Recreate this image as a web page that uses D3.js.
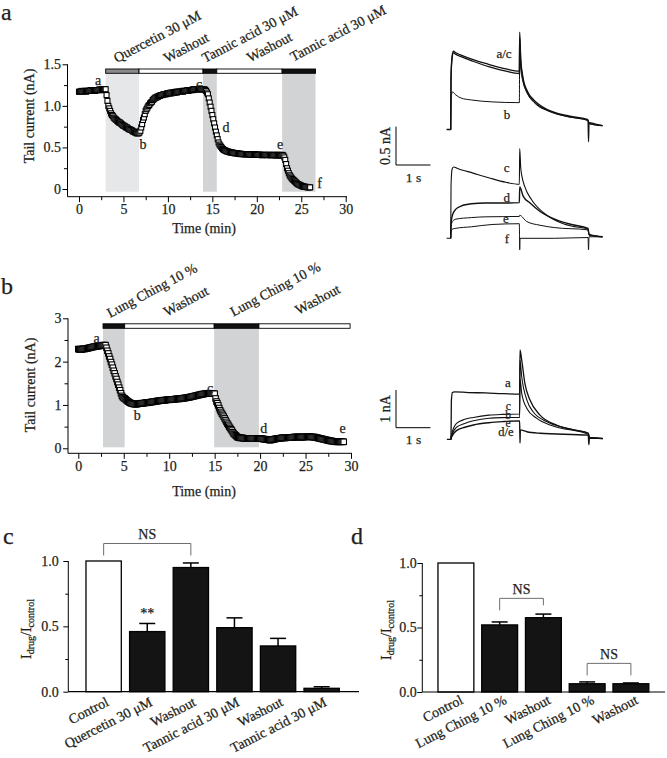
<!DOCTYPE html>
<html><head><meta charset="utf-8">
<script src="https://cdn.jsdelivr.net/npm/d3@7"></script>
<style>
body{margin:0;background:#fff}
svg{display:block}
</style>
</head><body>
<svg id="fig" width="667" height="758"></svg>
<script>
// ======================= DATA =======================
// Panel a: time course of tail current (nA), one sample every 0.1 min
const tcA_dt = 0.1;
const tcA_values = [
 1.17,1.17,1.17,1.18,1.17,1.17,1.18,1.18,1.17,1.18,
 1.18,1.18,1.18,1.19,1.18,1.18,1.19,1.19,1.18,1.19,
 1.19,1.19,1.19,1.20,1.19,1.19,1.20,1.20,1.19,1.20,
 1.20,1.13,1.06,1.00,0.97,0.94,0.91,0.89,0.88,0.86,
 0.85,0.84,0.83,0.82,0.81,0.80,0.80,0.79,0.78,0.77,
 0.76,0.76,0.75,0.74,0.74,0.73,0.72,0.72,0.71,0.71,
 0.70,0.69,0.69,0.68,0.68,0.67,0.67,0.67,0.68,0.70,
 0.74,0.78,0.83,0.86,0.90,0.94,0.96,0.98,1.00,1.01,
 1.03,1.04,1.05,1.07,1.08,1.09,1.10,1.10,1.11,1.11,
 1.12,1.12,1.13,1.13,1.13,1.14,1.14,1.14,1.14,1.15,
 1.15,1.15,1.15,1.16,1.15,1.16,1.16,1.16,1.16,1.17,
 1.16,1.17,1.17,1.17,1.17,1.17,1.18,1.17,1.18,1.18,
 1.18,1.18,1.19,1.18,1.19,1.19,1.19,1.19,1.20,1.19,
 1.20,1.20,1.20,1.20,1.20,1.20,1.21,1.20,1.20,1.20,
 1.20,1.20,1.19,1.18,1.16,1.14,1.09,1.04,0.99,0.94,
 0.89,0.84,0.79,0.74,0.69,0.645,0.60,0.56,0.535,0.52,
 0.505,0.49,0.48,0.47,0.465,0.46,0.455,0.45,0.45,0.445,
 0.44,0.44,0.44,0.435,0.435,0.43,0.43,0.43,0.43,0.425,
 0.425,0.42,0.425,0.42,0.42,0.42,0.42,0.415,0.42,0.42,
 0.42,0.415,0.42,0.415,0.41,0.415,0.415,0.42,0.415,0.41,
 0.415,0.41,0.41,0.415,0.41,0.41,0.405,0.41,0.41,0.41,
 0.41,0.41,0.405,0.41,0.41,0.41,0.405,0.41,0.41,0.405,
 0.41,0.41,0.40,0.41,0.41,0.41,0.405,0.41,0.40,0.41,
 0.40,0.38,0.35,0.30,0.25,0.22,0.19,0.165,0.15,0.135,
 0.12,0.11,0.10,0.09,0.08,0.07,0.06,0.055,0.05,0.045,
 0.04,0.035,0.03,0.03,0.025,0.025,0.025,0.02,0.02,0.02,
 0.02
];
const periodsA_label = ["Quercetin 30 μM","Washout","Tannic acid 30 μM","Washout","Tannic acid 30 μM"];
const periodsA_kind  = ["quercetin","washout","drug","washout","drug"];
const periodsA_start = [3.0, 6.75, 13.95, 15.5, 22.85];
const periodsA_end   = [6.75, 13.95, 15.5, 22.85, 26.6];
const xTicksTC = [0,5,10,15,20,25,30];
const xMinorTC = [2.5,7.5,12.5,17.5,22.5,27.5];
const yTicksA = [0,0.5,1.0,1.5];
const yMinorA = [0.25,0.75,1.25];

// Panel b: time course, one sample every 0.1 min
const tcB_dt = 0.1;
const tcB_values = [
 2.29,2.28,2.29,2.29,2.28,2.29,2.30,2.29,2.30,2.30,
 2.31,2.31,2.32,2.32,2.33,2.33,2.34,2.34,2.35,2.35,
 2.35,2.36,2.36,2.36,2.37,2.37,2.37,2.38,2.38,2.38,
 2.38,2.32,2.25,2.19,2.12,2.06,1.99,1.93,1.86,1.79,
 1.73,1.66,1.60,1.53,1.47,1.40,1.34,1.27,1.21,1.18,
 1.16,1.15,1.13,1.11,1.09,1.08,1.06,1.05,1.04,1.03,
 1.03,1.02,1.02,1.02,1.02,1.02,1.03,1.03,1.03,1.04,
 1.04,1.04,1.04,1.05,1.05,1.05,1.05,1.06,1.06,1.06,
 1.07,1.07,1.07,1.08,1.08,1.08,1.09,1.09,1.09,1.10,
 1.10,1.10,1.10,1.11,1.11,1.11,1.11,1.12,1.12,1.12,
 1.12,1.12,1.13,1.13,1.13,1.13,1.13,1.14,1.14,1.14,
 1.14,1.14,1.15,1.15,1.15,1.15,1.16,1.16,1.16,1.17,
 1.17,1.17,1.18,1.18,1.19,1.19,1.20,1.20,1.21,1.21,
 1.22,1.22,1.23,1.23,1.24,1.24,1.25,1.25,1.25,1.26,
 1.26,1.26,1.27,1.27,1.27,1.27,1.27,1.26,1.26,1.26,
 1.26,1.15,1.08,1.04,0.99,0.93,0.88,0.84,0.80,0.77,
 0.73,0.69,0.65,0.61,0.57,0.54,0.50,0.47,0.44,0.41,
 0.37,0.34,0.32,0.30,0.28,0.26,0.25,0.25,0.24,0.24,
 0.24,0.24,0.23,0.23,0.23,0.23,0.23,0.23,0.23,0.23,
 0.23,0.23,0.23,0.23,0.23,0.23,0.23,0.23,0.23,0.23,
 0.23,0.22,0.22,0.22,0.21,0.21,0.21,0.20,0.20,0.20,
 0.19,0.19,0.19,0.20,0.20,0.21,0.21,0.22,0.22,0.23,
 0.23,0.23,0.23,0.24,0.24,0.24,0.24,0.24,0.24,0.25,
 0.25,0.25,0.25,0.25,0.25,0.25,0.25,0.26,0.26,0.26,
 0.26,0.26,0.26,0.26,0.26,0.26,0.26,0.26,0.26,0.26,
 0.26,0.27,0.27,0.27,0.27,0.27,0.26,0.26,0.26,0.26,
 0.26,0.25,0.25,0.24,0.24,0.23,0.23,0.22,0.22,0.21,
 0.21,0.20,0.20,0.19,0.19,0.18,0.18,0.17,0.17,0.17,
 0.16,0.16,0.16,0.15,0.15,0.15,0.15,0.15,0.15,0.15,
 0.15,0.15,0.15
];
const periodsB_label = ["Lung Ching 10 %","Washout","Lung Ching 10 %","Washout"];
const periodsB_kind  = ["drug","washout","drug","washout"];
const periodsB_start = [2.72, 5.1, 14.95, 19.87];
const periodsB_end   = [5.1, 14.95, 19.87, 29.9];
const yTicksB = [0,1,2,3];
const yMinorB = [0.5,1.5,2.5];

// Current traces: [time (s), current (nA)]
const trA1_a = [[-0.12,0],[0,0],[0.01,0.70],[0.04,0.95],[0.08,1.02],[0.15,1.0],[0.3,0.97],[0.65,0.91],[1.1,0.85],[1.6,0.79],[1.99,0.76],[2.0,1.27],[2.03,0.92],[2.08,0.72],[2.12,0.62],[2.2,0.52],[2.27,0.46],[2.4,0.39],[2.55,0.33],[2.8,0.26],[3.03,0.22],[3.5,0.17],[3.98,0.13],[3.995,-0.16],[4.01,0.09],[4.2,0.07],[4.4,0.05]];
const trA1_c = [[0,0],[0.01,0.68],[0.04,0.93],[0.08,1.0],[0.15,0.98],[0.3,0.95],[0.65,0.89],[1.1,0.82],[1.6,0.76],[1.99,0.73],[2.0,1.2],[2.03,0.88],[2.08,0.69],[2.12,0.6],[2.2,0.5],[2.27,0.44],[2.4,0.37],[2.55,0.31],[2.8,0.25],[3.03,0.21],[3.5,0.16],[3.98,0.12],[4.01,0.08],[4.2,0.06],[4.4,0.05]];
const trA1_b = [[0,0],[0.01,0.4],[0.05,0.49],[0.15,0.45],[0.3,0.41],[0.6,0.385],[1.2,0.36],[1.99,0.35],[2.0,1.1],[2.03,0.8],[2.08,0.65],[2.12,0.58],[2.2,0.49],[2.27,0.43],[2.4,0.36],[2.55,0.3],[2.8,0.25],[3.03,0.21],[3.5,0.16],[3.98,0.12],[4.01,0.08],[4.2,0.06],[4.4,0.05]];
const trA2_c = [[-0.12,0],[0,0],[0.01,0.7],[0.04,0.9],[0.08,0.93],[0.2,0.91],[0.65,0.85],[1.1,0.79],[1.6,0.73],[1.99,0.705],[2.0,1.17],[2.03,0.92],[2.06,0.82],[2.15,0.67],[2.35,0.5],[2.7,0.33],[3.1,0.22],[3.5,0.16],[3.98,0.12],[4.01,0.05],[4.2,0.03],[4.4,0.02]];
const trA2_d = [[0,0],[0.01,0.2],[0.05,0.3],[0.15,0.38],[0.3,0.42],[0.6,0.45],[1.0,0.46],[1.5,0.46],[1.99,0.465],[2.0,0.67],[2.1,0.55],[2.3,0.46],[2.59,0.35],[3.07,0.24],[3.5,0.18],[3.98,0.13],[4.01,0.05],[4.2,0.03],[4.4,0.02]];
const trA2_e = [[0,0],[0.01,0.15],[0.05,0.22],[0.15,0.25],[0.6,0.27],[1.0,0.28],[1.99,0.285],[2.0,0.3],[2.2,0.22],[2.59,0.17],[3.0,0.14],[3.98,0.11],[4.01,0.04],[4.2,0.03],[4.4,0.02]];
const trA2_f = [[0,0],[0.01,0.08],[0.05,0.12],[0.15,0.13],[0.6,0.15],[1.2,0.18],[1.99,0.19],[2.0,-0.15],[2.01,0],[3.0,0.0],[3.98,0.01],[3.995,-0.15],[4.01,0.02],[4.4,0.02]];
const trB_a  = [[-0.12,0],[0,0],[0.01,1.0],[0.04,1.24],[0.1,1.26],[0.5,1.24],[1.0,1.23],[1.5,1.21],[1.99,1.20],[2.0,2.37],[2.05,2.1],[2.14,1.49],[2.29,1.04],[2.58,0.64],[3.06,0.38],[3.55,0.25],[3.98,0.16],[4.01,0.05],[4.2,0.03],[4.4,0.02]];
const trB_c  = [[0,0],[0.01,0.1],[0.16,0.42],[0.4,0.53],[0.65,0.58],[1.1,0.64],[1.5,0.66],[1.99,0.67],[2.0,2.1],[2.05,1.66],[2.2,1.04],[2.38,0.73],[2.77,0.47],[3.35,0.29],[3.98,0.16],[4.01,0.05],[4.2,0.03],[4.4,0.02]];
const trB_b  = [[0,0],[0.01,0.08],[0.16,0.32],[0.4,0.42],[0.65,0.49],[1.1,0.56],[1.5,0.575],[1.99,0.58],[2.0,1.6],[2.05,1.22],[2.2,0.82],[2.48,0.56],[2.96,0.35],[3.98,0.13],[4.01,0.05],[4.2,0.03],[4.4,0.02]];
const trB_de = [[0,0],[0.01,0.05],[0.16,0.23],[0.4,0.32],[0.65,0.38],[1.1,0.44],[1.5,0.47],[1.99,0.49],[2.0,-0.1],[2.01,0.25],[2.2,0.2],[2.58,0.16],[3.98,0.11],[3.995,-0.14],[4.01,0.03],[4.4,0.02]];

// Panel c: normalized current
const barC_labels = ["Control","Quercetin 30 μM","Washout","Tannic acid 30 μM","Washout","Tannic acid 30 μM"];
const barC_values = [1.0, 0.46, 0.95, 0.49, 0.35, 0.026];
const barC_errors = [0, 0.062, 0.035, 0.075, 0.058, 0.012];
// Panel d
const barD_labels = ["Control","Lung Ching 10 %","Washout","Lung Ching 10 %","Washout"];
const barD_values = [1.0, 0.52, 0.576, 0.064, 0.064];
const barD_errors = [0, 0.023, 0.028, 0.014, 0.006];
const yTicksBar = [0, 0.5, 1.0];
const yMinorBar = [0.25, 0.75];

// ======================= DRAWING =======================
const FONT = "Liberation Serif";
const INK = "#231f20";
const svg = d3.select("#fig");

function setFont(sel) {
  sel.attr("font-family", FONT).style("font-family", "'Liberation Serif'").attr("fill", INK)
     .attr("stroke", INK).attr("stroke-width", 0.25);
  return sel;
}
function txt(parent, x, y, s, size, anchor, rot) {
  const t = parent.append("text").attr("font-size", size).attr("text-anchor", anchor || "start").text(s);
  setFont(t);
  if (rot) t.attr("transform", `translate(${x},${y}) rotate(${rot})`);
  else t.attr("x", x).attr("y", y);
  return t;
}
function styleAxis(a, size) {
  a.select(".domain").remove();
  a.attr("font-size", size);
  a.selectAll("line").attr("stroke", "#000").attr("stroke-width", 1);
  setFont(a.selectAll("text")).attr("font-size", size);
}
function hline(g, x1, x2, y, w) { g.append("line").attr("x1", x1).attr("x2", x2).attr("y1", y).attr("y2", y).attr("stroke", "#000").attr("stroke-width", w || 1); }
function vline(g, x, y1, y2, w, c) { g.append("line").attr("x1", x).attr("x2", x).attr("y1", y1).attr("y2", y2).attr("stroke", c || "#000").attr("stroke-width", w || 1); }

function timeCourse(cfg) {
  const g = svg.append("g");
  const x = d3.scaleLinear().domain([0, 30]).range(cfg.xRange);
  const y = d3.scaleLinear().domain(cfg.yDomain).range(cfg.yRange);
  const n = cfg.pStart.length;
  for (let i = 0; i < n; i++) {
    const k = cfg.pKind[i];
    if (cfg.shade[k]) g.append("rect").attr("x", x(cfg.pStart[i])).attr("y", cfg.barY + cfg.barH)
      .attr("width", x(cfg.pEnd[i]) - x(cfg.pStart[i])).attr("height", cfg.shadeBottom - cfg.barY - cfg.barH)
      .attr("fill", cfg.shade[k]);
  }
  for (let i = 0; i < n; i++) {
    g.append("rect").attr("x", x(cfg.pStart[i])).attr("y", cfg.barY)
      .attr("width", x(cfg.pEnd[i]) - x(cfg.pStart[i])).attr("height", cfg.barH)
      .attr("fill", cfg.barFill[cfg.pKind[i]]).attr("stroke", "#000").attr("stroke-width", 0.9);
    txt(g, cfg.labelPos[i][0], cfg.labelPos[i][1], cfg.pLabel[i], 14, "start", cfg.labelRot);
  }
  const ya = g.append("g").attr("transform", `translate(${cfg.axisX},0)`)
    .call(d3.axisLeft(y).tickValues(cfg.yMajor).tickSize(5).tickPadding(1.5).tickFormat(cfg.yFmt));
  const ym = g.append("g").attr("transform", `translate(${cfg.axisX},0)`)
    .call(d3.axisLeft(y).tickValues(cfg.yMinor).tickSize(3.5).tickFormat(""));
  const xa = g.append("g").attr("transform", `translate(0,${cfg.axisY})`)
    .call(d3.axisBottom(x).tickValues(xTicksTC).tickSize(5.5).tickPadding(cfg.xPad).tickFormat(d3.format("d")));
  const xm = g.append("g").attr("transform", `translate(0,${cfg.axisY})`)
    .call(d3.axisBottom(x).tickValues(xMinorTC).tickSize(3.5).tickFormat(""));
  [ya, ym, xa, xm].forEach(a => styleAxis(a, 14));
  vline(g, cfg.axisX, y(cfg.yDomain[1]), cfg.axisY);
  hline(g, cfg.axisX, cfg.axisXEnd, cfg.axisY);
  // samples as open squares
  const s = cfg.sq;
  g.append("g").selectAll("rect").data(cfg.values).join("rect")
    .attr("x", (d, i) => x(i * cfg.dt) - s / 2).attr("y", d => y(d) - s / 2)
    .attr("width", s).attr("height", s).attr("fill", "#fff").attr("stroke", "#000").attr("stroke-width", 1.1);
  cfg.letters.forEach(l => txt(g, l[1], l[2], l[0], 14, "middle"));
  txt(g, cfg.yLabelPos[0], cfg.yLabelPos[1], "Tail current (nA)", 14, "middle", -90);
  txt(g, cfg.xLabelPos[0], cfg.xLabelPos[1], "Time (min)", 14, "middle");
}

timeCourse({
  xRange: [79, 345.7], yDomain: [0, 1.5], yRange: [189, 64.3],
  values: tcA_values, dt: tcA_dt, sq: 5,
  pStart: periodsA_start, pEnd: periodsA_end, pKind: periodsA_kind, pLabel: periodsA_label,
  shade: { quercetin: "#e6e7e8", drug: "#d1d3d4" },
  barFill: { quercetin: "#8a8a8a", washout: "#fff", drug: "#111" },
  barY: 69, barH: 4.3, shadeBottom: 191.7,
  labelPos: [[116.7, 63], [166.7, 63], [205, 63], [250, 62.5], [293.3, 61.7]], labelRot: -27.5,
  axisX: 67.5, axisY: 196.7, axisXEnd: 347, xPad: 1.7,
  yMajor: yTicksA, yMinor: yMinorA, yFmt: d => d === 0 ? "0" : d3.format(".1f")(d),
  letters: [["a", 98, 85], ["b", 143, 149], ["c", 199, 89], ["d", 226, 131.7], ["e", 280, 149], ["f", 319.5, 188.3]],
  yLabelPos: [34, 116], xLabelPos: [204, 233]
});
timeCourse({
  xRange: [78.3, 351], yDomain: [0, 3], yRange: [448.3, 318.3],
  values: tcB_values, dt: tcB_dt, sq: 5.5,
  pStart: periodsB_start, pEnd: periodsB_end, pKind: periodsB_kind, pLabel: periodsB_label,
  shade: { drug: "#d1d3d4" },
  barFill: { washout: "#fff", drug: "#111" },
  barY: 323.8, barH: 4.5, shadeBottom: 447.3,
  labelPos: [[110, 318], [166.7, 316.7], [233.3, 316.7], [298.3, 315]], labelRot: -28,
  axisX: 68, axisY: 453.3, axisXEnd: 352, xPad: 2.7,
  yMajor: yTicksB, yMinor: yMinorB, yFmt: d3.format("d"),
  letters: [["a", 96.7, 343.3], ["b", 137.3, 420], ["c", 210, 393.3], ["d", 263.7, 433.3], ["e", 342.7, 433.3]],
  yLabelPos: [35, 385], xLabelPos: [204, 496]
});

// ---------- current traces ----------
function traces(cfg) {
  const g = svg.append("g");
  const x = d3.scaleLinear().domain([0, 1]).range([cfg.x0, cfg.x0 + cfg.pxPerSec]);
  const line = d3.line().x(d => x(d[0])).curve(d3.curveMonotoneX);
  cfg.groups.forEach(gr => {
    const y = d3.scaleLinear().domain([0, 1]).range([gr.y0, gr.y0 - cfg.pxPerNA]);
    line.y(d => y(d[1]));
    gr.traces.forEach(tr => g.append("path").attr("d", line(tr.data)).attr("fill", "none")
      .attr("stroke", "#111").attr("stroke-width", tr.w).attr("stroke-linejoin", "round"));
    gr.labels.forEach(l => txt(g, l[1], l[2], l[0], l[3] || 13, "middle"));
  });
  // scale bar
  const sb = cfg.scaleBar;
  const yS = d3.scaleLinear().domain([0, sb.nA]).range([sb.y, sb.y - sb.nA * cfg.pxPerNA]);
  vline(g, sb.x, yS(sb.nA), yS(0));
  hline(g, sb.x, sb.x + (x(1) - x(0)), sb.y);
  txt(g, sb.x - 6.5, (yS(0) + yS(sb.nA)) / 2, sb.nALabel, 14, "middle", -90);
  txt(g, sb.x + 17.5, sb.y + 16.5, "1 s", 13.5, "middle");
}
traces({
  x0: 450.7, pxPerSec: 34.5, pxPerNA: 76.7,
  groups: [
    { y0: 129.5, traces: [{ data: trA1_b, w: 1 }, { data: trA1_c, w: 1.3 }, { data: trA1_a, w: 1.3 }],
      labels: [["a/c", 504, 58.3], ["b", 507, 119]] },
    { y0: 238.3, traces: [{ data: trA2_f, w: 1 }, { data: trA2_e, w: 1 }, { data: trA2_d, w: 1.4 }, { data: trA2_c, w: 1.1 }],
      labels: [["c", 506.7, 171.7], ["d", 506.7, 201.7], ["e", 506, 223], ["f", 507, 243]] }
  ],
  scaleBar: { x: 396, y: 165, nA: 0.5, nALabel: "0.5 nA" }
});
traces({
  x0: 451, pxPerSec: 34.5, pxPerNA: 37.7,
  groups: [
    { y0: 439.3, traces: [{ data: trB_de, w: 1.4 }, { data: trB_b, w: 1.1 }, { data: trB_c, w: 1.1 }, { data: trB_a, w: 1.3 }],
      labels: [["a", 508, 386.7], ["c", 508.3, 409.5, 11.5], ["b", 508, 418.5, 11.5], ["e", 508, 426.5, 11.5], ["d/e", 506, 436, 12.5]] }
  ],
  scaleBar: { x: 396, y: 427.7, nA: 1, nALabel: "1 nA" }
});

// ---------- bar charts ----------
function barChart(cfg) {
  const g = svg.append("g");
  const n = cfg.values.length;
  const x = d3.scaleBand().domain(d3.range(n)).range(cfg.xRange).paddingInner(cfg.pad).paddingOuter(cfg.pad);
  const y = d3.scaleLinear().domain([0, 1]).range(cfg.yRange);
  const ya = g.append("g").attr("transform", `translate(${cfg.axisX},0)`)
    .call(d3.axisLeft(y).tickValues(yTicksBar).tickSize(5).tickPadding(cfg.tickPad).tickFormat(d3.format(".1f")));
  const ym = g.append("g").attr("transform", `translate(${cfg.axisX},0)`)
    .call(d3.axisLeft(y).tickValues(yMinorBar).tickSize(3).tickFormat(""));
  [ya, ym].forEach(a => styleAxis(a, 14));
  // error bars
  cfg.values.forEach((v, i) => {
    if (!cfg.errors[i]) return;
    const cx = x(i) + x.bandwidth() / 2;
    vline(g, cx, y(v), y(v + cfg.errors[i]), 1.5);
    hline(g, cx - 8, cx + 8, y(v + cfg.errors[i]), 1.5);
  });
  g.selectAll("rect.bar").data(cfg.values).join("rect").attr("class", "bar")
    .attr("x", (d, i) => x(i)).attr("width", x.bandwidth())
    .attr("y", d => y(d)).attr("height", d => y(0) - y(d))
    .attr("fill", (d, i) => i === 0 ? "#fff" : "#141414").attr("stroke", "#000").attr("stroke-width", 1.3);
  vline(g, cfg.axisX, y(1), y(0));
  hline(g, cfg.axisX, cfg.axisXEnd, y(0), 1.2);
  cfg.labels.forEach((l, i) => txt(g, x(i) + x.bandwidth() / 2 + cfg.labelDx, cfg.labelY, l, 14, "end", -27));
  // significance brackets
  cfg.brackets.forEach(b => {
    const x1 = x(b[0]) + x.bandwidth() / 2, x2 = x(b[1]) + x.bandwidth() / 2, yy = y(b[2]);
    g.append("path").attr("d", `M${x1},${yy + b[3]}V${yy}H${x2}V${yy + b[4]}`)
      .attr("fill", "none").attr("stroke", "#6d6e71").attr("stroke-width", 1);
    txt(g, (x1 + x2) / 2, yy - 4, "NS", 14, "middle");
  });
  cfg.stars.forEach(s => txt(g, x(s[0]) + x.bandwidth() / 2, cfg.starY, s[1], 14, "middle"));
  const t = g.append("text").attr("font-size", 14).attr("text-anchor", "middle")
    .attr("transform", `translate(${cfg.yLabelPos[0]},${cfg.yLabelPos[1]}) rotate(-90)`);
  setFont(t);
  t.append("tspan").text("I");
  t.append("tspan").attr("font-size", 10).attr("dy", 3).text("drug");
  t.append("tspan").attr("dy", -3).text("/I");
  t.append("tspan").attr("font-size", 10).attr("dy", 3).text("control");
}
barChart({
  values: barC_values, errors: barC_errors, labels: barC_labels,
  xRange: [77.7, 347.6], pad: 0.19, yRange: [691.7, 561],
  axisX: 68.3, axisXEnd: 359, tickPad: 4.5,
  labelDx: 6, labelY: 705,
  brackets: [[0, 2, 1.134, 12, 12]], stars: [[1, "**"]], starY: 618,
  yLabelPos: [31, 629]
});
barChart({
  values: barD_values, errors: barD_errors, labels: barD_labels,
  xRange: [430.1, 656.7], pad: 0.18, yRange: [692, 563],
  axisX: 422.3, axisXEnd: 665, tickPad: 0.5,
  labelDx: 8, labelY: 703,
  brackets: [[1, 2, 0.726, 12, 7], [3, 4, 0.222, 12, 12]], stars: [], starY: 0,
  yLabelPos: [391, 630]
});

// panel letters
txt(svg, 1, 20, "a", 24);
txt(svg, 1, 294, "b", 24);
txt(svg, 3, 544, "c", 24);
txt(svg, 351, 544, "d", 24);
</script>
</body></html>
